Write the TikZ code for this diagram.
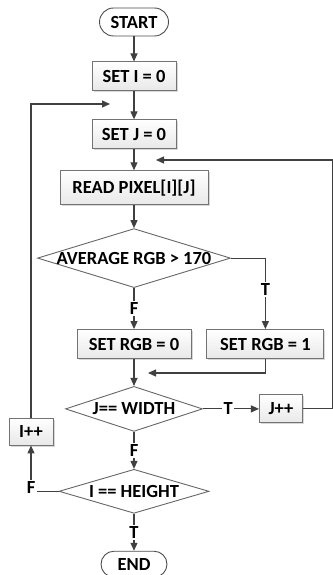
\documentclass[tikz,border=0pt]{standalone}
\usepackage{fontspec}
\setmainfont{Carlito}
\usetikzlibrary{shapes.geometric, arrows.meta, positioning, shadows}
\tikzset{
  terminal/.style={rectangle, rounded corners=14pt, minimum height=28pt,
    draw=black!70, fill=white, line width=0.9pt, text centered, font=\fontsize{18.5}{21}\selectfont\bfseries},
  process/.style={rectangle, minimum height=29pt, draw=black!55, line width=0.9pt,
    top color=white, bottom color=gray!18, drop shadow={shadow xshift=1.5pt, shadow yshift=-1.5pt, fill=gray!60, opacity=0.5},
    text centered, font=\fontsize{18.5}{21}\selectfont\bfseries},
  decision/.style={diamond, inner sep=0pt, draw=black!60, fill=white, line width=0.9pt,
    font=\fontsize{18.5}{21}\selectfont\bfseries},
  lbl/.style={fill=white, inner sep=1.5pt, font=\fontsize{18.5}{21}\selectfont\bfseries},
  arrow/.style={-{Triangle[length=8pt, width=7pt]}, line width=1.1pt, draw=black!75}
}
\begin{document}
\begin{tikzpicture}[x=1pt, y=-1pt]
\useasboundingbox (0,0) rectangle (332,575);
\node (start)     [terminal, minimum width=69pt] at (134,22) {START};
\node (setI)      [process, minimum width=84pt,  below=25pt of start]     {SET I = 0};
\node (setJ)      [process, minimum width=84pt,  below=28pt of setI]      {SET J = 0};
\node (readPx)    [process, minimum width=148pt, minimum height=34pt, below=21pt of setJ] {READ PIXEL[I][J]};
\node (avgRGB)    [decision, minimum width=193pt, minimum height=59pt, below=23pt of readPx]
                  {\makebox[0pt]{AVERAGE RGB > 170}};
\node (rgbZero)   [process, minimum width=114pt, below=41pt of avgRGB]    {SET RGB = 0};
\node (rgbOne)    [process, minimum width=117pt, right=15pt of rgbZero]   {SET RGB = 1};
\node (widthChk)  [decision, minimum width=137pt, minimum height=45pt, below=27pt of rgbZero]
                  {\makebox[0pt]{J== WIDTH}};
\node (incJ)      [process, minimum width=43pt, minimum height=28pt, right=56pt of widthChk] {J++};
\node (heightChk) [decision, minimum width=150pt, minimum height=44pt, below=37pt of widthChk]
                  {\makebox[0pt]{I == HEIGHT}};
\node (incI)      [process, minimum width=44pt, minimum height=27pt] at (31,431.5) {I++};
\node (stop)      [terminal, minimum width=66pt, minimum height=26pt, rounded corners=13pt,
                   below=37pt of heightChk] {END};

% loop return points
\coordinate (joinC) at (110,104);
\coordinate (joinB) at (156,160);
\coordinate (joinA) at (148,373);

\draw [arrow] (start)    -- (setI);
\draw [arrow] (setI)     -- (setJ);
\draw [arrow] (setJ)     -- (readPx);
\draw [arrow] (readPx)   -- (avgRGB);
\draw [arrow] (avgRGB)   -- node[lbl]{F} (rgbZero);
\draw [arrow] (avgRGB.east) -| node[lbl, pos=0.72]{T} (rgbOne.north);
\draw [arrow] (rgbZero)  -- (widthChk);
\draw [arrow] (rgbOne.south) |- (joinA);
\draw [arrow] (widthChk) -- node[lbl, pos=0.45]{T} (incJ);
\draw [arrow] (incJ.east) -- ++(30,0) |- (joinB);
\draw [arrow] (widthChk) -- node[lbl]{F} (heightChk);
\draw [arrow] (heightChk.west) -| node[lbl, pos=0.5, yshift=4pt]{F} (incI.south);
\draw [arrow] (incI.north) |- (joinC);
\draw [arrow] (heightChk) -- node[lbl]{T} (stop);
\end{tikzpicture}
\end{document}
